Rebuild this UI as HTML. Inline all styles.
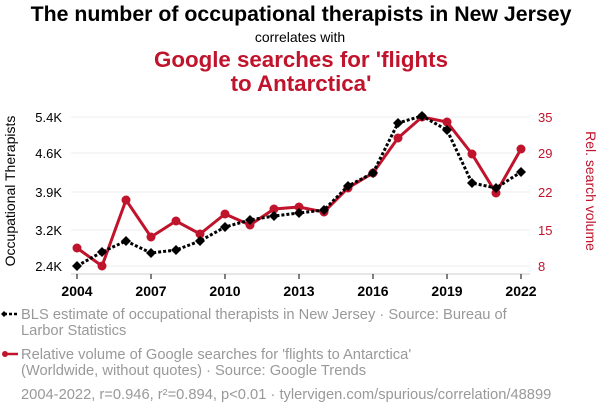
<!DOCTYPE html>
<html><head><meta charset="utf-8"><style>
body{margin:0;background:#fff;}
svg{display:block;font-family:"Liberation Sans",sans-serif;}
</style></head><body>
<svg width="600" height="414" viewBox="0 0 600 414">
<text x="301" y="21" text-anchor="middle" font-size="21.3" font-weight="bold" fill="#000">The number of occupational therapists in New Jersey</text>
<text x="300" y="42" text-anchor="middle" font-size="14" fill="#000">correlates with</text>
<text x="301" y="67" text-anchor="middle" font-size="22.3" font-weight="bold" fill="#c0132c">Google searches for 'flights</text>
<text x="301" y="91" text-anchor="middle" font-size="22.3" font-weight="bold" fill="#c0132c">to Antarctica'</text>
<g stroke="#eee" stroke-width="1">
<line x1="71" x2="530" y1="117" y2="117"/><line x1="71" x2="530" y1="153" y2="153"/><line x1="71" x2="530" y1="192" y2="192"/><line x1="71" x2="530" y1="230" y2="230"/><line x1="71" x2="530" y1="266" y2="266"/>
</g>
<line x1="71" x2="530" y1="274" y2="274" stroke="#ccc"/>
<g font-size="13" fill="#000" text-anchor="end">
<text x="62" y="122">5.4K</text><text x="62" y="158">4.6K</text><text x="62" y="197">3.9K</text><text x="62" y="235">3.2K</text><text x="62" y="271">2.4K</text>
</g>
<g font-size="13" fill="#c0132c">
<text x="538" y="122">35</text><text x="538" y="158">29</text><text x="538" y="197">22</text><text x="538" y="235">15</text><text x="538" y="271">8</text>
</g>
<g stroke="#000"><line x1="77" x2="77" y1="274" y2="279"/><line x1="151" x2="151" y1="274" y2="279"/><line x1="225" x2="225" y1="274" y2="279"/><line x1="299" x2="299" y1="274" y2="279"/><line x1="373" x2="373" y1="274" y2="279"/><line x1="447" x2="447" y1="274" y2="279"/><line x1="521" x2="521" y1="274" y2="279"/></g>
<g font-size="14" font-weight="bold" text-anchor="middle">
<text x="77" y="296">2004</text><text x="151" y="296">2007</text><text x="225" y="296">2010</text><text x="299" y="296">2013</text><text x="373" y="296">2016</text><text x="447" y="296">2019</text><text x="521" y="296">2022</text>
</g>
<text transform="translate(15,191) rotate(-90)" text-anchor="middle" font-size="14" fill="#000">Occupational Therapists</text>
<text transform="translate(586,191) rotate(90)" text-anchor="middle" font-size="14" fill="#c0132c">Rel. search volume</text>
<polyline fill="none" stroke="#c0132c" stroke-width="3" points="77,248 102,266 126,200 151,237 176,221 200,234 225,214 250,225 274,209 299,207 324,212 348,188 373,173 398,138 422,117 447,122 472,154 496,193 521,149"/>
<g fill="#c0132c">
<circle cx="77" cy="248" r="4.5"/><circle cx="102" cy="266" r="4.5"/><circle cx="126" cy="200" r="4.5"/><circle cx="151" cy="237" r="4.5"/><circle cx="176" cy="221" r="4.5"/><circle cx="200" cy="234" r="4.5"/><circle cx="225" cy="214" r="4.5"/><circle cx="250" cy="225" r="4.5"/><circle cx="274" cy="209" r="4.5"/><circle cx="299" cy="207" r="4.5"/><circle cx="324" cy="212" r="4.5"/><circle cx="348" cy="188" r="4.5"/><circle cx="373" cy="173" r="4.5"/><circle cx="398" cy="138" r="4.5"/><circle cx="422" cy="117" r="4.5"/><circle cx="447" cy="122" r="4.5"/><circle cx="472" cy="154" r="4.5"/><circle cx="496" cy="193" r="4.5"/><circle cx="521" cy="149" r="4.5"/>
</g>
<polyline fill="none" stroke="#000" stroke-width="3" stroke-dasharray="3,2" points="77,266 102,252 126,241 151,253 176,250 200,241 225,227 250,220 274,216 299,213 324,210 348,186 373,173 398,123 422,116 447,130 472,183 496,188 521,172"/>
<g fill="#000">
<path d="M77,261l5,5-5,5-5-5z"/><path d="M102,247l5,5-5,5-5-5z"/><path d="M126,236l5,5-5,5-5-5z"/><path d="M151,248l5,5-5,5-5-5z"/><path d="M176,245l5,5-5,5-5-5z"/><path d="M200,236l5,5-5,5-5-5z"/><path d="M225,222l5,5-5,5-5-5z"/><path d="M250,215l5,5-5,5-5-5z"/><path d="M274,211l5,5-5,5-5-5z"/><path d="M299,208l5,5-5,5-5-5z"/><path d="M324,205l5,5-5,5-5-5z"/><path d="M348,181l5,5-5,5-5-5z"/><path d="M373,168l5,5-5,5-5-5z"/><path d="M398,118l5,5-5,5-5-5z"/><path d="M422,111l5,5-5,5-5-5z"/><path d="M447,125l5,5-5,5-5-5z"/><path d="M472,178l5,5-5,5-5-5z"/><path d="M496,183l5,5-5,5-5-5z"/><path d="M521,167l5,5-5,5-5-5z"/>
</g>
<g font-size="14.7" fill="#999">
<text x="21" y="319">BLS estimate of occupational therapists in New Jersey · Source: Bureau of</text>
<text x="21" y="335">Larbor Statistics</text>
<text x="21" y="359">Relative volume of Google searches for 'flights to Antarctica'</text>
<text x="21" y="375">(Worldwide, without quotes) · Source: Google Trends</text>
<text x="21" y="399">2004-2022, r=0.946, r²=0.894, p&lt;0.01 · tylervigen.com/spurious/correlation/48899</text>
</g>
<line x1="4" x2="18" y1="314" y2="314" stroke="#000" stroke-width="2.5" stroke-dasharray="3,2"/>
<path d="M4,311l3,3-3,3-3-3z" fill="#000"/>
<line x1="4" x2="18" y1="354" y2="354" stroke="#c0132c" stroke-width="2.5"/>
<circle cx="5" cy="354" r="3" fill="#c0132c"/>
</svg>
</body></html>
